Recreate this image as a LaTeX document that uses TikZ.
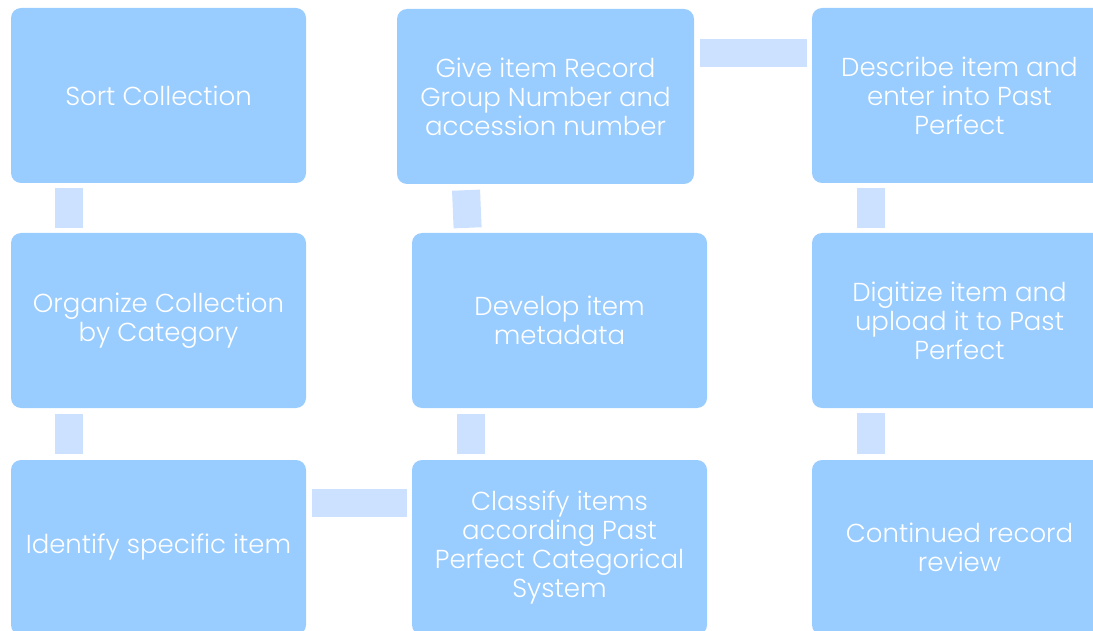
\documentclass[tikz,border=0pt]{standalone}
\usepackage{fontspec}
\setmainfont{Poppins}[UprightFont=* Light]
\definecolor{boxblue}{HTML}{99CCFF}
\definecolor{linkblue}{HTML}{CCE0FF}

\begin{document}
\begin{tikzpicture}[x=1pt,y=-1pt,
    stage/.style={fill=boxblue, rounded corners=10pt, minimum width=295pt,
      minimum height=175pt, inner sep=0pt, text=white, align=center,
      font=\fontsize{26}{29}\selectfont},
    link/.style={draw=linkblue, line width=28pt}]
  \useasboundingbox (0,0) rectangle (1093,631);
  \clip (0,0) rectangle (1093,631);

  \node[stage] (sort) at (158.5,95.5) {Sort Collection};
  \node[stage] (organize) at (158.5,320.5) {Organize Collection\\by Category};
  \node[stage] (identify) at (158.5,547.5) {Identify specific item};

  \node[stage, minimum width=297pt] (give) at (545.5,96.5) {Give item Record\\Group Number and\\accession number};
  \node[stage] (develop) at (559.5,320.5) {Develop item\\metadata};
  \node[stage] (classify) at (559.5,547.5) {Classify items\\according Past\\Perfect Categorical\\System};

  \node[stage] (describe) at (959.5,95.5) {Describe item and\\enter into Past\\Perfect};
  \node[stage] (digitize) at (959.5,320.5) {Digitize item and\\upload it to Past\\Perfect};
  \node[stage] (continued) at (959.5,547.5) {Continued record\\review};

  \draw[link, shorten <=5pt, shorten >=5pt] ([xshift=58pt]sort.south west) -- ([xshift=58pt]organize.north west);
  \draw[link, shorten <=6pt, shorten >=6pt] ([xshift=58pt]organize.south west) -- ([xshift=58pt]identify.north west);
  \draw[link, shorten <=6pt, shorten >=5pt] ([yshift=-43pt]identify.north east) -- ([yshift=-43pt]classify.north west);
  \draw[link, shorten <=6pt, shorten >=6pt] ([xshift=59pt]classify.north west) -- ([xshift=59pt]develop.south west);
  \draw[link, shorten <=5pt, shorten >=6pt] ([xshift=56pt]develop.north west) -- ([xshift=69pt]give.south west);
  \draw[link, shorten <=6pt, shorten >=5pt] ([yshift=-44pt]give.north east) -- ([yshift=-45pt]describe.north west);
  \draw[link, shorten <=5pt, shorten >=5pt] ([xshift=59.5pt]describe.south west) -- ([xshift=59.5pt]digitize.north west);
  \draw[link, shorten <=5pt, shorten >=6pt] ([xshift=59.5pt]digitize.south west) -- ([xshift=59.5pt]continued.north west);
\end{tikzpicture}
\end{document}
